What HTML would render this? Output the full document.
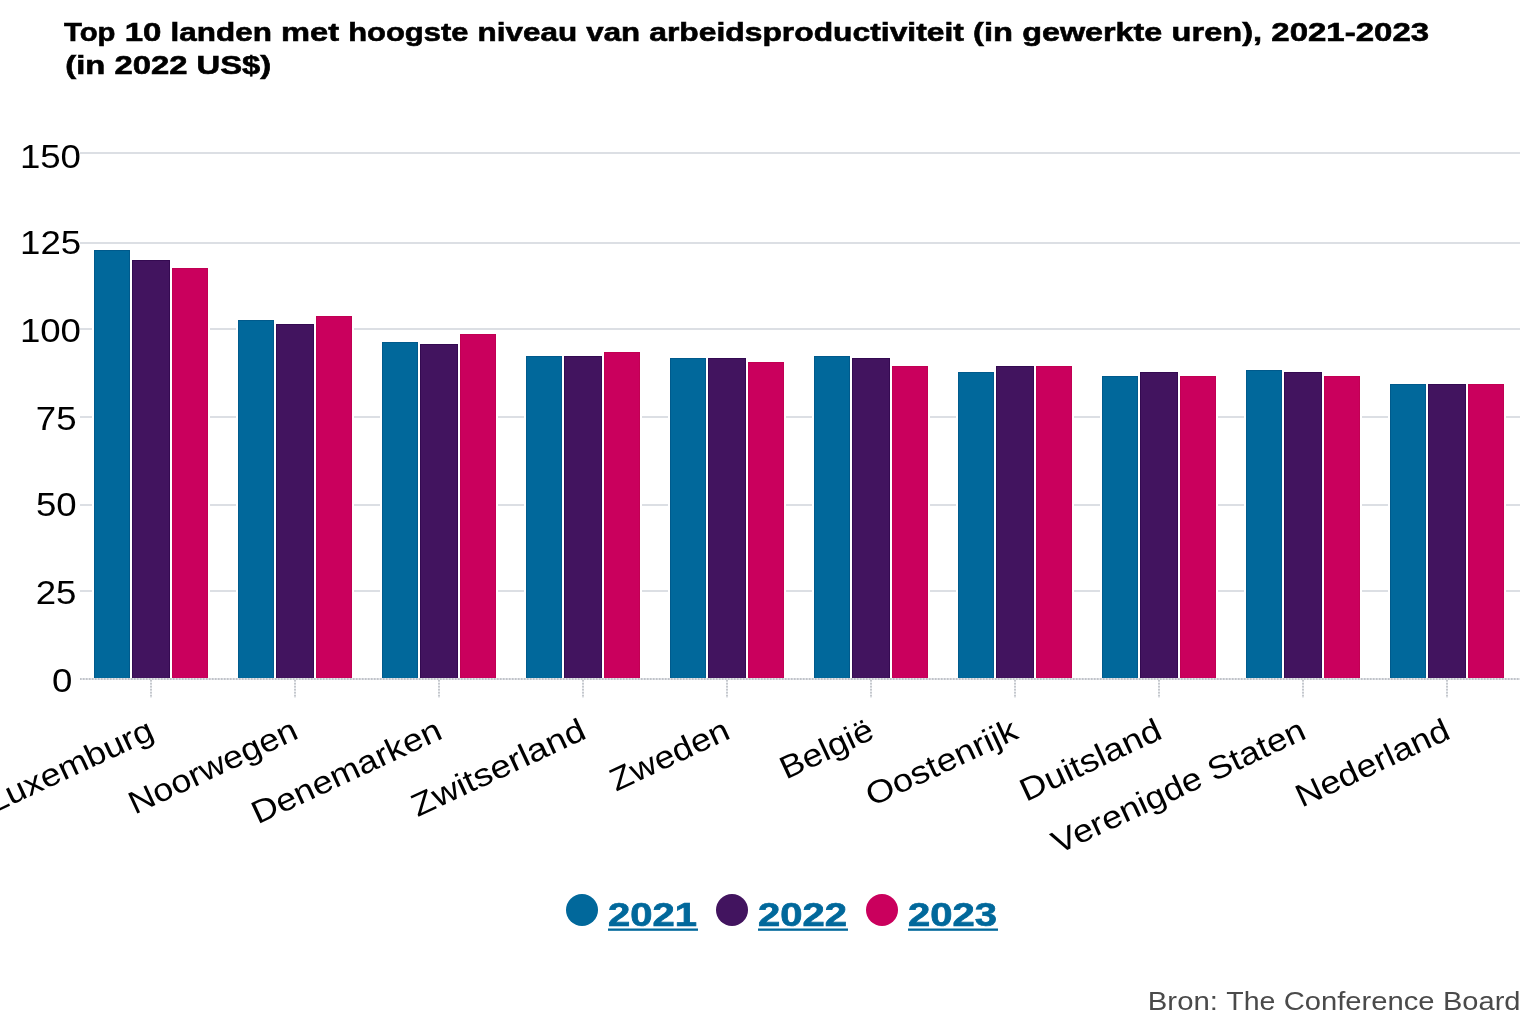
<!DOCTYPE html><html><head><meta charset="utf-8"><style>html,body{margin:0;padding:0;background:#fff;width:1540px;height:1020px;overflow:hidden}svg{display:block;will-change:transform}text{font-family:"Liberation Sans",sans-serif}</style></head><body>
<svg width="1540" height="1020" viewBox="0 0 1540 1020">
<rect x="0" y="0" width="1540" height="1020" fill="#fff"/>
<text x="64.00" y="41.2" font-size="26.4" font-weight="bold" fill="#000" stroke="#000" stroke-width="0.6" textLength="51.52" lengthAdjust="spacingAndGlyphs">Top</text>
<text x="124.70" y="41.2" font-size="26.4" font-weight="bold" fill="#000" stroke="#000" stroke-width="0.6" textLength="36.72" lengthAdjust="spacingAndGlyphs">10</text>
<text x="170.61" y="41.2" font-size="26.4" font-weight="bold" fill="#000" stroke="#000" stroke-width="0.6" textLength="101.22" lengthAdjust="spacingAndGlyphs">landen</text>
<text x="281.02" y="41.2" font-size="26.4" font-weight="bold" fill="#000" stroke="#000" stroke-width="0.6" textLength="58.02" lengthAdjust="spacingAndGlyphs">met</text>
<text x="348.22" y="41.2" font-size="26.4" font-weight="bold" fill="#000" stroke="#000" stroke-width="0.6" textLength="120.14" lengthAdjust="spacingAndGlyphs">hoogste</text>
<text x="477.55" y="41.2" font-size="26.4" font-weight="bold" fill="#000" stroke="#000" stroke-width="0.6" textLength="99.53" lengthAdjust="spacingAndGlyphs">niveau</text>
<text x="586.27" y="41.2" font-size="26.4" font-weight="bold" fill="#000" stroke="#000" stroke-width="0.6" textLength="53.80" lengthAdjust="spacingAndGlyphs">van</text>
<text x="649.25" y="41.2" font-size="26.4" font-weight="bold" fill="#000" stroke="#000" stroke-width="0.6" textLength="314.69" lengthAdjust="spacingAndGlyphs">arbeidsproductiviteit</text>
<text x="973.12" y="41.2" font-size="26.4" font-weight="bold" fill="#000" stroke="#000" stroke-width="0.6" textLength="39.89" lengthAdjust="spacingAndGlyphs">(in</text>
<text x="1022.20" y="41.2" font-size="26.4" font-weight="bold" fill="#000" stroke="#000" stroke-width="0.6" textLength="140.16" lengthAdjust="spacingAndGlyphs">gewerkte</text>
<text x="1171.55" y="41.2" font-size="26.4" font-weight="bold" fill="#000" stroke="#000" stroke-width="0.6" textLength="90.58" lengthAdjust="spacingAndGlyphs">uren),</text>
<text x="1271.31" y="41.2" font-size="26.4" font-weight="bold" fill="#000" stroke="#000" stroke-width="0.6" textLength="157.83" lengthAdjust="spacingAndGlyphs">2021-2023</text>
<text x="65.3" y="74" font-size="26.4" font-weight="bold" fill="#000" stroke="#000" stroke-width="0.6" textLength="206" lengthAdjust="spacingAndGlyphs">(in 2022 US$)</text>
<rect x="80" y="152" width="1440" height="2" fill="#dcdfe4"/>
<rect x="80" y="242" width="1440" height="2" fill="#dcdfe4"/>
<rect x="80" y="328" width="1440" height="2" fill="#dcdfe4"/>
<rect x="80" y="416" width="1440" height="2" fill="#dcdfe4"/>
<rect x="80" y="504" width="1440" height="2" fill="#dcdfe4"/>
<rect x="80" y="590" width="1440" height="2" fill="#dcdfe4"/>
<text x="81.0" y="167.7" font-size="33" fill="#000" text-anchor="end" textLength="61.08" lengthAdjust="spacingAndGlyphs">150</text>
<text x="81.2" y="253.8" font-size="33" fill="#000" text-anchor="end" textLength="61.08" lengthAdjust="spacingAndGlyphs">125</text>
<text x="81.0" y="341.8" font-size="33" fill="#000" text-anchor="end" textLength="61.08" lengthAdjust="spacingAndGlyphs">100</text>
<text x="76.6" y="429.9" font-size="33" fill="#000" text-anchor="end" textLength="40.72" lengthAdjust="spacingAndGlyphs">75</text>
<text x="76.7" y="515.9" font-size="33" fill="#000" text-anchor="end" textLength="40.72" lengthAdjust="spacingAndGlyphs">50</text>
<text x="76.5" y="603.8" font-size="33" fill="#000" text-anchor="end" textLength="40.72" lengthAdjust="spacingAndGlyphs">25</text>
<text x="72.5" y="691.8" font-size="33" fill="#000" text-anchor="end" textLength="20.36" lengthAdjust="spacingAndGlyphs">0</text>
<rect x="92" y="248" width="40" height="430" fill="#fff"/>
<rect x="130" y="258" width="42" height="420" fill="#fff"/>
<rect x="170" y="266" width="40" height="412" fill="#fff"/>
<rect x="94.5" y="250.5" width="35" height="428" fill="#01689b" stroke="#005a8c" stroke-width="1"/>
<rect x="132.5" y="260.5" width="37" height="418" fill="#42145f" stroke="#340a51" stroke-width="1"/>
<rect x="172.5" y="268.5" width="35" height="410" fill="#ca005d" stroke="#c10052" stroke-width="1"/>
<rect x="236" y="318" width="40" height="360" fill="#fff"/>
<rect x="274" y="322" width="42" height="356" fill="#fff"/>
<rect x="314" y="314" width="40" height="364" fill="#fff"/>
<rect x="238.5" y="320.5" width="35" height="358" fill="#01689b" stroke="#005a8c" stroke-width="1"/>
<rect x="276.5" y="324.5" width="37" height="354" fill="#42145f" stroke="#340a51" stroke-width="1"/>
<rect x="316.5" y="316.5" width="35" height="362" fill="#ca005d" stroke="#c10052" stroke-width="1"/>
<rect x="380" y="340" width="40" height="338" fill="#fff"/>
<rect x="418" y="342" width="42" height="336" fill="#fff"/>
<rect x="458" y="332" width="40" height="346" fill="#fff"/>
<rect x="382.5" y="342.5" width="35" height="336" fill="#01689b" stroke="#005a8c" stroke-width="1"/>
<rect x="420.5" y="344.5" width="37" height="334" fill="#42145f" stroke="#340a51" stroke-width="1"/>
<rect x="460.5" y="334.5" width="35" height="344" fill="#ca005d" stroke="#c10052" stroke-width="1"/>
<rect x="524" y="354" width="40" height="324" fill="#fff"/>
<rect x="562" y="354" width="42" height="324" fill="#fff"/>
<rect x="602" y="350" width="40" height="328" fill="#fff"/>
<rect x="526.5" y="356.5" width="35" height="322" fill="#01689b" stroke="#005a8c" stroke-width="1"/>
<rect x="564.5" y="356.5" width="37" height="322" fill="#42145f" stroke="#340a51" stroke-width="1"/>
<rect x="604.5" y="352.5" width="35" height="326" fill="#ca005d" stroke="#c10052" stroke-width="1"/>
<rect x="668" y="356" width="40" height="322" fill="#fff"/>
<rect x="706" y="356" width="42" height="322" fill="#fff"/>
<rect x="746" y="360" width="40" height="318" fill="#fff"/>
<rect x="670.5" y="358.5" width="35" height="320" fill="#01689b" stroke="#005a8c" stroke-width="1"/>
<rect x="708.5" y="358.5" width="37" height="320" fill="#42145f" stroke="#340a51" stroke-width="1"/>
<rect x="748.5" y="362.5" width="35" height="316" fill="#ca005d" stroke="#c10052" stroke-width="1"/>
<rect x="812" y="354" width="40" height="324" fill="#fff"/>
<rect x="850" y="356" width="42" height="322" fill="#fff"/>
<rect x="890" y="364" width="40" height="314" fill="#fff"/>
<rect x="814.5" y="356.5" width="35" height="322" fill="#01689b" stroke="#005a8c" stroke-width="1"/>
<rect x="852.5" y="358.5" width="37" height="320" fill="#42145f" stroke="#340a51" stroke-width="1"/>
<rect x="892.5" y="366.5" width="35" height="312" fill="#ca005d" stroke="#c10052" stroke-width="1"/>
<rect x="956" y="370" width="40" height="308" fill="#fff"/>
<rect x="994" y="364" width="42" height="314" fill="#fff"/>
<rect x="1034" y="364" width="40" height="314" fill="#fff"/>
<rect x="958.5" y="372.5" width="35" height="306" fill="#01689b" stroke="#005a8c" stroke-width="1"/>
<rect x="996.5" y="366.5" width="37" height="312" fill="#42145f" stroke="#340a51" stroke-width="1"/>
<rect x="1036.5" y="366.5" width="35" height="312" fill="#ca005d" stroke="#c10052" stroke-width="1"/>
<rect x="1100" y="374" width="40" height="304" fill="#fff"/>
<rect x="1138" y="370" width="42" height="308" fill="#fff"/>
<rect x="1178" y="374" width="40" height="304" fill="#fff"/>
<rect x="1102.5" y="376.5" width="35" height="302" fill="#01689b" stroke="#005a8c" stroke-width="1"/>
<rect x="1140.5" y="372.5" width="37" height="306" fill="#42145f" stroke="#340a51" stroke-width="1"/>
<rect x="1180.5" y="376.5" width="35" height="302" fill="#ca005d" stroke="#c10052" stroke-width="1"/>
<rect x="1244" y="368" width="40" height="310" fill="#fff"/>
<rect x="1282" y="370" width="42" height="308" fill="#fff"/>
<rect x="1322" y="374" width="40" height="304" fill="#fff"/>
<rect x="1246.5" y="370.5" width="35" height="308" fill="#01689b" stroke="#005a8c" stroke-width="1"/>
<rect x="1284.5" y="372.5" width="37" height="306" fill="#42145f" stroke="#340a51" stroke-width="1"/>
<rect x="1324.5" y="376.5" width="35" height="302" fill="#ca005d" stroke="#c10052" stroke-width="1"/>
<rect x="1388" y="382" width="40" height="296" fill="#fff"/>
<rect x="1426" y="382" width="42" height="296" fill="#fff"/>
<rect x="1466" y="382" width="40" height="296" fill="#fff"/>
<rect x="1390.5" y="384.5" width="35" height="294" fill="#01689b" stroke="#005a8c" stroke-width="1"/>
<rect x="1428.5" y="384.5" width="37" height="294" fill="#42145f" stroke="#340a51" stroke-width="1"/>
<rect x="1468.5" y="384.5" width="35" height="294" fill="#ca005d" stroke="#c10052" stroke-width="1"/>
<rect x="80" y="678" width="1440" height="2" fill="#e3e5e9"/>
<line x1="80" y1="679" x2="1520" y2="679" stroke="#9da1a8" stroke-width="1" stroke-dasharray="1.5 1.5"/>
<rect x="150" y="680" width="2" height="18" fill="#eceef1"/>
<line x1="151" y1="680" x2="151" y2="698" stroke="#9da1a8" stroke-width="1" stroke-dasharray="1.5 1.5"/>
<g transform="translate(151,727) rotate(-25)"><text x="0" y="11.8" font-size="32" fill="#000" text-anchor="end" textLength="179.86" lengthAdjust="spacingAndGlyphs">Luxemburg</text></g>
<rect x="294" y="680" width="2" height="18" fill="#eceef1"/>
<line x1="295" y1="680" x2="295" y2="698" stroke="#9da1a8" stroke-width="1" stroke-dasharray="1.5 1.5"/>
<g transform="translate(295,727) rotate(-25)"><text x="0" y="11.8" font-size="32" fill="#000" text-anchor="end" textLength="182.39" lengthAdjust="spacingAndGlyphs">Noorwegen</text></g>
<rect x="438" y="680" width="2" height="18" fill="#eceef1"/>
<line x1="439" y1="680" x2="439" y2="698" stroke="#9da1a8" stroke-width="1" stroke-dasharray="1.5 1.5"/>
<g transform="translate(439,727) rotate(-25)"><text x="0" y="11.8" font-size="32" fill="#000" text-anchor="end" textLength="205.59" lengthAdjust="spacingAndGlyphs">Denemarken</text></g>
<rect x="582" y="680" width="2" height="18" fill="#eceef1"/>
<line x1="583" y1="680" x2="583" y2="698" stroke="#9da1a8" stroke-width="1" stroke-dasharray="1.5 1.5"/>
<g transform="translate(583,727) rotate(-25)"><text x="0" y="11.8" font-size="32" fill="#000" text-anchor="end" textLength="188.14" lengthAdjust="spacingAndGlyphs">Zwitserland</text></g>
<rect x="726" y="680" width="2" height="18" fill="#eceef1"/>
<line x1="727" y1="680" x2="727" y2="698" stroke="#9da1a8" stroke-width="1" stroke-dasharray="1.5 1.5"/>
<g transform="translate(727,727) rotate(-25)"><text x="0" y="11.8" font-size="32" fill="#000" text-anchor="end" textLength="128.06" lengthAdjust="spacingAndGlyphs">Zweden</text></g>
<rect x="870" y="680" width="2" height="18" fill="#eceef1"/>
<line x1="871" y1="680" x2="871" y2="698" stroke="#9da1a8" stroke-width="1" stroke-dasharray="1.5 1.5"/>
<g transform="translate(871,727) rotate(-25)"><text x="0" y="11.8" font-size="32" fill="#000" text-anchor="end" textLength="99.42" lengthAdjust="spacingAndGlyphs">België</text></g>
<rect x="1014" y="680" width="2" height="18" fill="#eceef1"/>
<line x1="1015" y1="680" x2="1015" y2="698" stroke="#9da1a8" stroke-width="1" stroke-dasharray="1.5 1.5"/>
<g transform="translate(1015,727) rotate(-25)"><text x="0" y="11.8" font-size="32" fill="#000" text-anchor="end" textLength="163.42" lengthAdjust="spacingAndGlyphs">Oostenrijk</text></g>
<rect x="1158" y="680" width="2" height="18" fill="#eceef1"/>
<line x1="1159" y1="680" x2="1159" y2="698" stroke="#9da1a8" stroke-width="1" stroke-dasharray="1.5 1.5"/>
<g transform="translate(1159,727) rotate(-25)"><text x="0" y="11.8" font-size="32" fill="#000" text-anchor="end" textLength="152.13" lengthAdjust="spacingAndGlyphs">Duitsland</text></g>
<rect x="1302" y="680" width="2" height="18" fill="#eceef1"/>
<line x1="1303" y1="680" x2="1303" y2="698" stroke="#9da1a8" stroke-width="1" stroke-dasharray="1.5 1.5"/>
<g transform="translate(1303,727) rotate(-25)"><text x="0" y="11.8" font-size="32" fill="#000" text-anchor="end" textLength="275.88" lengthAdjust="spacingAndGlyphs">Verenigde Staten</text></g>
<rect x="1446" y="680" width="2" height="18" fill="#eceef1"/>
<line x1="1447" y1="680" x2="1447" y2="698" stroke="#9da1a8" stroke-width="1" stroke-dasharray="1.5 1.5"/>
<g transform="translate(1447,727) rotate(-25)"><text x="0" y="11.8" font-size="32" fill="#000" text-anchor="end" textLength="165.88" lengthAdjust="spacingAndGlyphs">Nederland</text></g>
<circle cx="582" cy="910" r="16" fill="#01689b"/>
<text x="608" y="925.8" font-size="33" font-weight="bold" fill="#01689b" stroke="#01689b" stroke-width="0.7" textLength="89" lengthAdjust="spacingAndGlyphs">2021</text>
<rect x="608" y="928.5" width="90" height="2.3" fill="#01689b"/>
<circle cx="732" cy="910" r="16" fill="#42145f"/>
<text x="758" y="925.8" font-size="33" font-weight="bold" fill="#01689b" stroke="#01689b" stroke-width="0.7" textLength="89" lengthAdjust="spacingAndGlyphs">2022</text>
<rect x="758" y="928.5" width="90" height="2.3" fill="#01689b"/>
<circle cx="882" cy="910" r="16" fill="#ca005d"/>
<text x="908" y="925.8" font-size="33" font-weight="bold" fill="#01689b" stroke="#01689b" stroke-width="0.7" textLength="89" lengthAdjust="spacingAndGlyphs">2023</text>
<rect x="908" y="928.5" width="90" height="2.3" fill="#01689b"/>
<text x="1147.80" y="1009.9" font-size="26.4" fill="#4a4a4a" textLength="70.12" lengthAdjust="spacingAndGlyphs">Bron:</text>
<text x="1226.31" y="1009.9" font-size="26.4" fill="#4a4a4a" textLength="49.08" lengthAdjust="spacingAndGlyphs">The</text>
<text x="1283.78" y="1009.9" font-size="26.4" fill="#4a4a4a" textLength="150.78" lengthAdjust="spacingAndGlyphs">Conference</text>
<text x="1442.95" y="1009.9" font-size="26.4" fill="#4a4a4a" textLength="77.55" lengthAdjust="spacingAndGlyphs">Board</text>
</svg></body></html>
